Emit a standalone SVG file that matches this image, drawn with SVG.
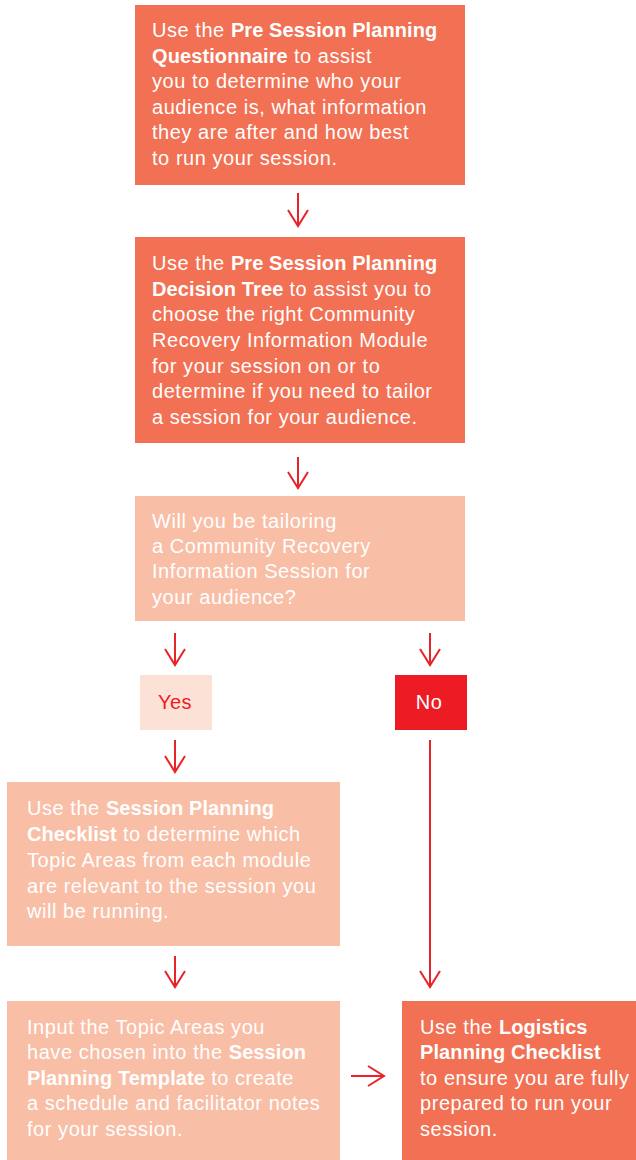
<svg xmlns="http://www.w3.org/2000/svg" width="636" height="1160" viewBox="0 0 636 1160">
  <style>
    .dark { fill: #F27053; }
    .light { fill: #F9BEA6; }
    .pale { fill: #FCE2D6; }
    .red { fill: #ED1C24; }
    .txt { font-family: "Liberation Sans", Arial, Helvetica, sans-serif; font-size: 20px; letter-spacing: 0.55px; fill: #FFFFFF; }
    .b { font-weight: bold; letter-spacing: 0.1px; }
    .ans { font-family: "Liberation Sans", Arial, Helvetica, sans-serif; font-size: 20px; letter-spacing: 0.5px; text-anchor: middle; }
    .conn { fill: none; stroke: #E8232A; stroke-width: 2; marker-end: url(#chev); }
  </style>
  <defs>
    <marker id="chev" viewBox="0 0 20 22" refX="17" refY="11" markerWidth="20" markerHeight="22" markerUnits="userSpaceOnUse" orient="auto">
      <path d="M1 1 L17 11 L1 21" fill="none" stroke="#E8232A" stroke-width="2"/>
    </marker>
  </defs>

  <rect width="636" height="1160" fill="#FFFFFF"/>

  <g id="questionnaire">
    <rect class="dark" x="135" y="5" width="330" height="180"/>
    <text class="txt" x="152" y="37">Use the <tspan class="b">Pre Session Planning</tspan></text>
    <text class="txt" x="152" y="63"><tspan class="b">Questionnaire</tspan> to assist</text>
    <text class="txt" x="152" y="88">you to determine who your</text>
    <text class="txt" x="152" y="114">audience is, what information</text>
    <text class="txt" x="152" y="139">they are after and how best</text>
    <text class="txt" x="152" y="165">to run your session.</text>
  </g>

  <g id="decision-tree">
    <rect class="dark" x="135" y="237" width="330" height="206"/>
    <text class="txt" x="152" y="270">Use the <tspan class="b">Pre Session Planning</tspan></text>
    <text class="txt" x="152" y="296"><tspan class="b">Decision Tree</tspan> to assist you to</text>
    <text class="txt" x="152" y="321">choose the right Community</text>
    <text class="txt" x="152" y="347">Recovery Information Module</text>
    <text class="txt" x="152" y="373">for your session on or to</text>
    <text class="txt" x="152" y="398">determine if you need to tailor</text>
    <text class="txt" x="152" y="424">a session for your audience.</text>
  </g>

  <g id="question">
    <rect class="light" x="135" y="496" width="330" height="125"/>
    <text class="txt" x="152" y="528">Will you be tailoring</text>
    <text class="txt" x="152" y="553">a Community Recovery</text>
    <text class="txt" x="152" y="578">Information Session for</text>
    <text class="txt" x="152" y="604">your audience?</text>
  </g>

  <g id="yes">
    <rect class="pale" x="140" y="675" width="72" height="55"/>
    <text class="ans" x="175" y="709" fill="#ED1C24">Yes</text>
  </g>

  <g id="no">
    <rect class="red" x="395" y="675" width="72" height="55"/>
    <text class="ans" x="429" y="709" fill="#FFFFFF">No</text>
  </g>

  <g id="session-checklist">
    <rect class="light" x="7" y="782" width="333" height="164"/>
    <text class="txt" x="27" y="815">Use the <tspan class="b">Session Planning</tspan></text>
    <text class="txt" x="27" y="841"><tspan class="b">Checklist</tspan> to determine which</text>
    <text class="txt" x="27" y="867">Topic Areas from each module</text>
    <text class="txt" x="27" y="893">are relevant to the session you</text>
    <text class="txt" x="27" y="918">will be running.</text>
  </g>

  <g id="session-template">
    <rect class="light" x="7" y="1001" width="333" height="159"/>
    <text class="txt" x="27" y="1034">Input the Topic Areas you</text>
    <text class="txt" x="27" y="1059">have chosen into the <tspan class="b">Session</tspan></text>
    <text class="txt" x="27" y="1085"><tspan class="b">Planning Template</tspan> to create</text>
    <text class="txt" x="27" y="1110">a schedule and facilitator notes</text>
    <text class="txt" x="27" y="1136">for your session.</text>
  </g>

  <g id="logistics-checklist">
    <rect class="dark" x="402" y="1001" width="234" height="159"/>
    <text class="txt" x="420" y="1034">Use the <tspan class="b">Logistics</tspan></text>
    <text class="txt" x="420" y="1059"><tspan class="b">Planning Checklist</tspan></text>
    <text class="txt" x="420" y="1085">to ensure you are fully</text>
    <text class="txt" x="420" y="1110">prepared to run your</text>
    <text class="txt" x="420" y="1136">session.</text>
  </g>

  <g id="connectors">
    <path class="conn" d="M298 193 V226"/>
    <path class="conn" d="M298 457 V488"/>
    <path class="conn" d="M175 633 V665"/>
    <path class="conn" d="M430 633 V665"/>
    <path class="conn" d="M175 740 V772"/>
    <path class="conn" d="M175 956 V987"/>
    <path class="conn" d="M430 740 V987"/>
    <path class="conn" d="M351 1076 H384"/>
  </g>
</svg>
